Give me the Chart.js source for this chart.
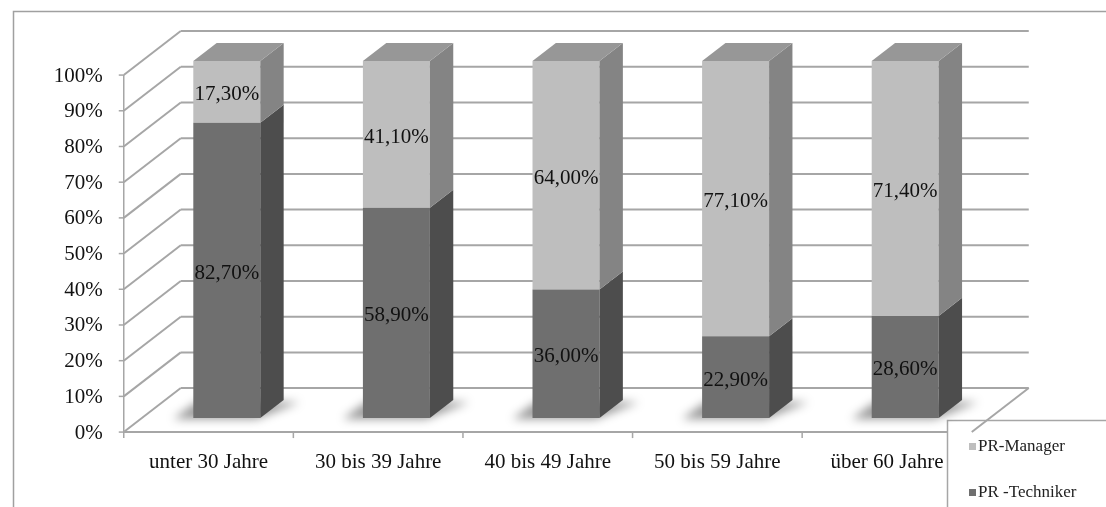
<!DOCTYPE html>
<html>
<head>
<meta charset="utf-8">
<script src="https://cdn.jsdelivr.net/npm/chart.js@4/dist/chart.umd.min.js"></script>
<style>
  body { margin: 0; background: #fff; }
  canvas { display: block; }
</style>
</head>
<body>
<canvas id="ageChart" width="1106" height="507"></canvas>
<script>
const categories = ['unter 30 Jahre', '30 bis 39 Jahre', '40 bis 49 Jahre', '50 bis 59 Jahre', 'über 60 Jahre'];
const techniker = [82.7, 58.9, 36.0, 22.9, 28.6];
const manager = [17.3, 41.1, 64.0, 77.1, 71.4];
const yTicks = [0, 10, 20, 30, 40, 50, 60, 70, 80, 90, 100];

const FONT = '"Liberation Serif", "Times New Roman", serif';
const GRID = '#a6a6a6';

// floor depth (back wall offset) and where the bars sit inside it
const DEPTH = { x: 57, y: -44 };
const BAR_FRONT = 0.32;
const BAR_BACK = 0.73;

const faceColors = {
  techniker: { front: '#6f6f6f', side: '#4d4d4d', top: '#5e5e5e' },
  manager: { front: '#bebebe', side: '#848484', top: '#979797' }
};

function fmt(v) {
  return v.toFixed(2).replace('.', ',') + '%';
}

// offset from the bar plane to depth d (0 = front, 1 = back wall)
function shift(d) {
  return { x: (d - BAR_FRONT) * DEPTH.x, y: (d - BAR_FRONT) * DEPTH.y };
}

function line(ctx, pts, color, width) {
  ctx.beginPath();
  ctx.moveTo(pts[0][0], pts[0][1]);
  for (let i = 1; i < pts.length; i++) ctx.lineTo(pts[i][0], pts[i][1]);
  ctx.strokeStyle = color;
  ctx.lineWidth = width;
  ctx.stroke();
}

function poly(ctx, pts, fill) {
  ctx.beginPath();
  ctx.moveTo(pts[0][0], pts[0][1]);
  for (let i = 1; i < pts.length; i++) ctx.lineTo(pts[i][0], pts[i][1]);
  ctx.closePath();
  ctx.fillStyle = fill;
  ctx.fill();
}

const box3d = {
  id: 'box3d',
  beforeDatasetsDraw(chart) {
    const { ctx, chartArea, scales } = chart;
    const ys = scales.y, xs = scales.x;
    const front = shift(0), back = shift(1);
    const left = chartArea.left, right = chartArea.right;
    ctx.save();

    // outer frame
    line(ctx, [[13.5, 507], [13.5, 11.5], [1106, 11.5]], '#a0a0a0', 1.5);

    // back wall gridlines + left wall diagonals + y ticks
    yTicks.forEach(v => {
      const yb = ys.getPixelForValue(v);
      line(ctx, [[left + back.x, yb + back.y], [right + back.x, yb + back.y]], GRID, 2);
      line(ctx, [[left + front.x, yb + front.y], [left + back.x, yb + back.y]], GRID, 2);
      line(ctx, [[left + front.x - 5, yb + front.y], [left + front.x, yb + front.y]], GRID, 1.5);
      ctx.fillStyle = '#111';
      ctx.font = '21px ' + FONT;
      ctx.textAlign = 'right';
      ctx.textBaseline = 'middle';
      ctx.fillText(v + '%', left + front.x - 21, yb + front.y + 1);
    });

    // front axis line and floor
    const y0 = ys.getPixelForValue(0), y100 = ys.getPixelForValue(100);
    line(ctx, [[left + front.x, y100 + front.y], [left + front.x, y0 + front.y]], GRID, 1.5);
    line(ctx, [[left + front.x, y0 + front.y], [right + front.x, y0 + front.y]], GRID, 2);

    // category ticks and labels
    const step = (right - left) / categories.length;
    for (let i = 0; i <= categories.length; i++) {
      const x = left + i * step + front.x;
      line(ctx, [[x, y0 + front.y], [x, y0 + front.y + 6]], GRID, 1.5);
    }
    categories.forEach((c, i) => {
      ctx.fillStyle = '#111';
      ctx.font = '21px ' + FONT;
      ctx.textAlign = 'center';
      ctx.textBaseline = 'middle';
      ctx.fillText(c, xs.getPixelForValue(i) + front.x, y0 + front.y + 30);
    });

    // legend box covers the floor corner
    ctx.fillStyle = '#fff';
    ctx.fillRect(948, 421, 160, 90);
    line(ctx, [[947.5, 507], [947.5, 420.5], [1106, 420.5]], GRID, 1.5);
    line(ctx, [[right + front.x, y0 + front.y], [right + back.x, y0 + back.y]], GRID, 2);

    // soft shadows on the floor
    const dd = shift(BAR_BACK);
    const meta = chart.getDatasetMeta(0);
    ctx.filter = 'blur(5px)';
    meta.data.forEach(bar => {
      const xl = bar.x - bar.width / 2, xr = bar.x + bar.width / 2, b = bar.base;
      poly(ctx, [[xl - 20, b + 1], [xr - 4, b + 1], [xr + dd.x + 16, b + dd.y + 2], [xl + dd.x - 20, b + dd.y + 2]], 'rgba(0,0,0,0.4)');
    });
    ctx.filter = 'none';
    ctx.restore();
  },
  afterDatasetsDraw(chart) {
    const { ctx } = chart;
    const dd = shift(BAR_BACK);
    const keys = ['techniker', 'manager'];
    ctx.save();
    chart.data.datasets.forEach((ds, di) => {
      const col = faceColors[keys[di]];
      chart.getDatasetMeta(di).data.forEach(bar => {
        const xl = bar.x - bar.width / 2, xr = bar.x + bar.width / 2;
        const top = Math.min(bar.y, bar.base), bot = Math.max(bar.y, bar.base);
        poly(ctx, [[xr, top], [xr + dd.x, top + dd.y], [xr + dd.x, bot + dd.y], [xr, bot]], col.side);
        if (di === chart.data.datasets.length - 1) {
          poly(ctx, [[xl, top], [xr, top], [xr + dd.x, top + dd.y], [xl + dd.x, top + dd.y]], col.top);
        }
      });
    });

    // value labels on the front faces
    chart.data.datasets.forEach((ds, di) => {
      chart.getDatasetMeta(di).data.forEach((bar, i) => {
        ctx.fillStyle = '#111';
        ctx.font = '21px ' + FONT;
        ctx.textAlign = 'center';
        ctx.textBaseline = 'middle';
        ctx.fillText(fmt(ds.data[i]), bar.x, (bar.y + bar.base) / 2 + 3);
      });
    });

    // legend
    const items = [['PR-Manager', faceColors.manager.front, 447], ['PR -Techniker', faceColors.techniker.front, 493]];
    items.forEach(([label, color, y]) => {
      ctx.fillStyle = color;
      ctx.fillRect(969, y - 4, 7, 7);
      ctx.fillStyle = '#222';
      ctx.font = '17px ' + FONT;
      ctx.textAlign = 'left';
      ctx.textBaseline = 'middle';
      ctx.fillText(label, 978, y);
    });
    ctx.restore();
  }
};

new Chart(document.getElementById('ageChart'), {
  type: 'bar',
  data: {
    labels: categories,
    datasets: [
      { label: 'PR -Techniker', data: techniker, backgroundColor: faceColors.techniker.front },
      { label: 'PR-Manager', data: manager, backgroundColor: faceColors.manager.front }
    ]
  },
  options: {
    responsive: false,
    animation: false,
    events: [],
    layout: { padding: { left: 142, right: 116, top: 61, bottom: 89 } },
    datasets: { bar: { categoryPercentage: 1, barPercentage: 0.395, borderWidth: 0 } },
    scales: {
      x: { stacked: true, display: false },
      y: { stacked: true, display: false, min: 0, max: 100 }
    },
    plugins: { legend: { display: false }, tooltip: { enabled: false } }
  },
  plugins: [box3d]
});
</script>
</body>
</html>
